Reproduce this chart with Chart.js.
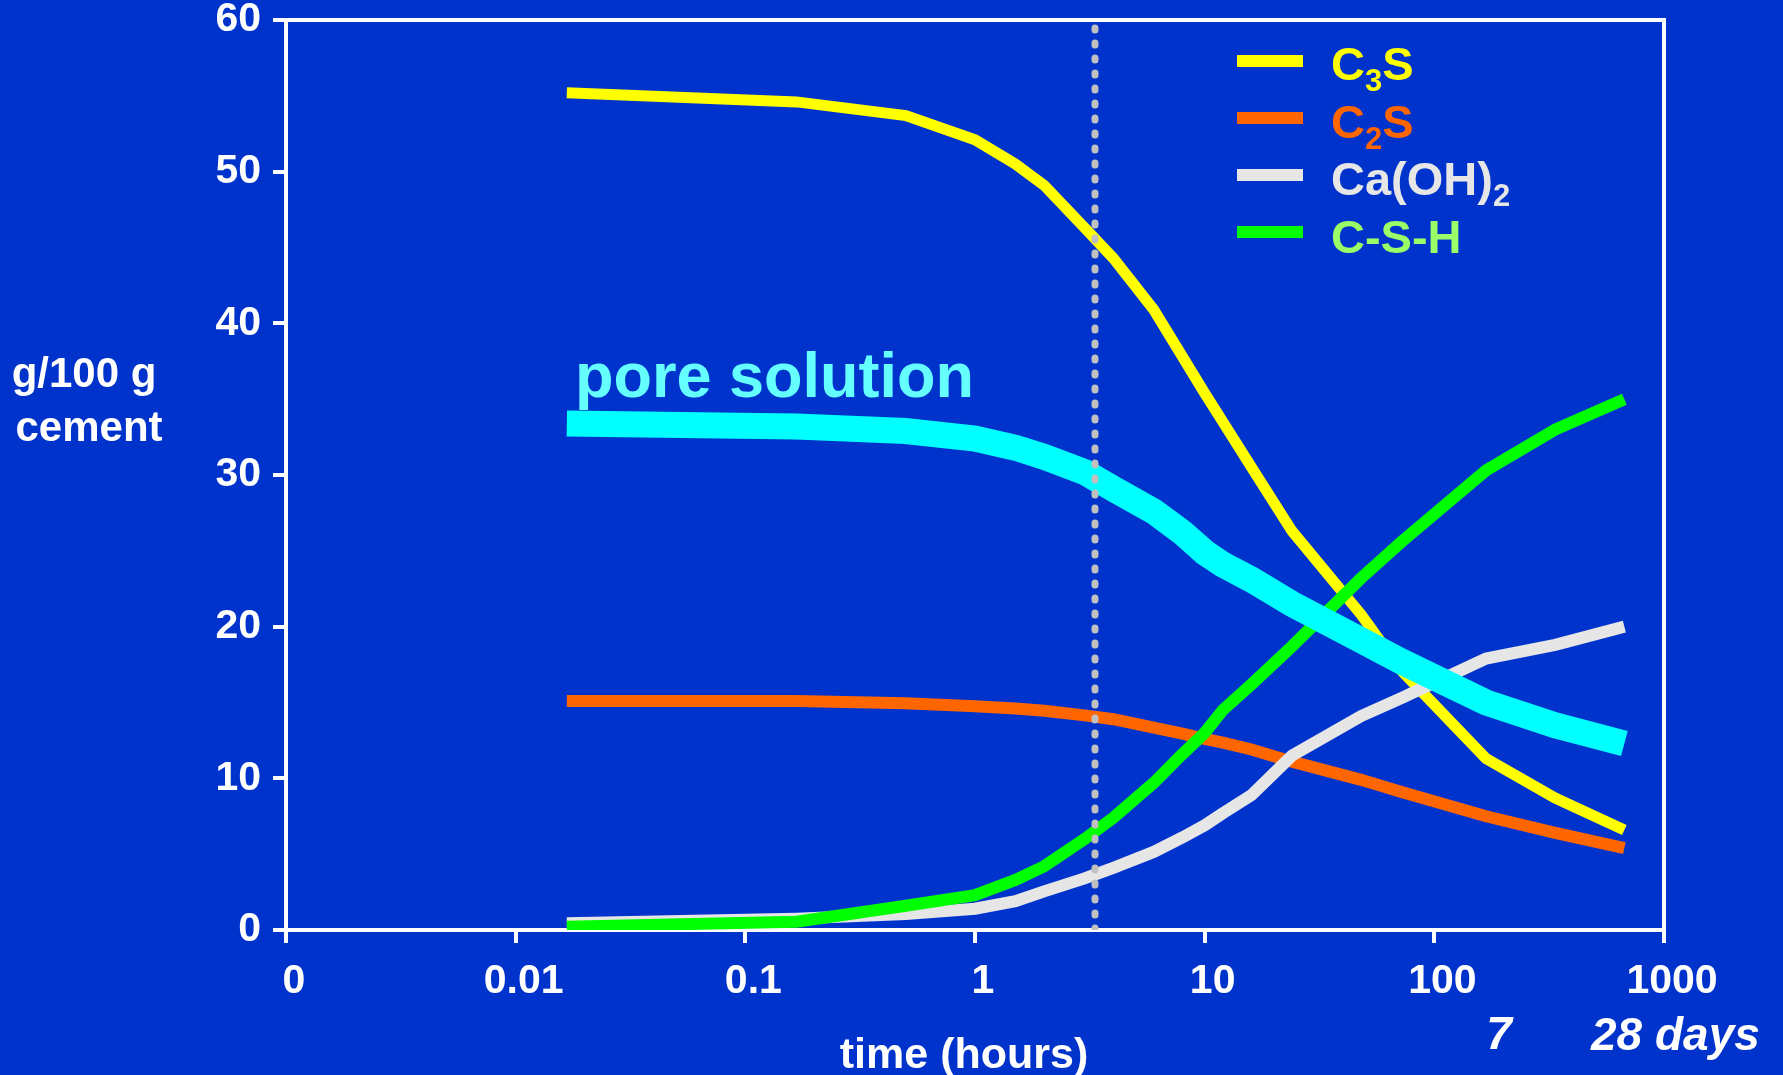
<!DOCTYPE html>
<html>
<head>
<meta charset="utf-8">
<script src="https://cdn.jsdelivr.net/npm/chart.js@4.4.0/dist/chart.umd.min.js"></script>
<style>
html,body{margin:0;padding:0;background:#0033CC;overflow:hidden;}
#wrap{width:1783px;height:1075px;position:relative;}
</style>
</head>
<body>
<div id="wrap"><canvas id="c" width="1783" height="1075"></canvas></div>
<script>
// ---- data (hours, g/100 g cement) ----
const times  = [0.0167, 0.167, 0.5, 1, 1.5, 2, 3, 4, 6, 8, 10, 12, 16, 24, 48, 72, 168, 336, 672];
const c3s    = [55.2, 54.6, 53.7, 52.1, 50.5, 49.1, 46.3, 44.3, 40.9, 37.8, 35.4, 33.5, 30.5, 26.3, 20.8, 17.1, 11.3, 8.7, 6.6];
const c2s    = [15.1, 15.1, 14.95, 14.75, 14.6, 14.45, 14.15, 13.9, 13.35, 12.95, 12.6, 12.35, 11.9, 11.1, 9.9, 9.1, 7.5, 6.4, 5.4];
const caoh2  = [0.45, 0.75, 1.05, 1.4, 1.9, 2.55, 3.4, 4.1, 5.15, 6.1, 6.9, 7.7, 8.9, 11.5, 14.1, 15.3, 17.9, 18.8, 20.0];
const csh    = [0.22, 0.55, 1.6, 2.3, 3.3, 4.2, 6.0, 7.4, 9.7, 11.6, 13.0, 14.5, 16.2, 18.7, 23.2, 25.6, 30.3, 33.0, 35.0];
const pore   = [33.4, 33.2, 32.9, 32.4, 31.8, 31.2, 30.2, 29.1, 27.6, 26.2, 24.9, 24.1, 23.1, 21.5, 19.1, 17.7, 15.0, 13.5, 12.3];
const markerTime = 3.33;           // dotted vertical line (hours)
const markerRange = [0, 60];
const xTickValues = [0.001, 0.01, 0.1, 1, 10, 100, 1000];
const xTickLabels = ['0', '0.01', '0.1', '1', '10', '100', '1000'];
const yTickStep = 10;

const FONT = '"Liberation Sans", Arial, Helvetica, sans-serif';
const pts = (vals) => times.map((t, i) => ({x: t, y: vals[i]}));

const bgPlugin = {
  id: 'bg',
  beforeDraw(chart) {
    const ctx = chart.ctx;
    ctx.save();
    ctx.fillStyle = '#0033CC';
    ctx.fillRect(0, 0, chart.width, chart.height);
    ctx.restore();
  },
  beforeDatasetsDraw(chart) {
    const {ctx, chartArea: a} = chart;
    ctx.save();
    ctx.strokeStyle = '#FFFFFF';
    ctx.lineWidth = 4;
    ctx.beginPath();
    ctx.moveTo(a.left, a.top);
    ctx.lineTo(a.right, a.top);
    ctx.lineTo(a.right, a.bottom);
    ctx.stroke();
    ctx.restore();
  }
};

const legendItems = [
  {ds: 0, parts: [['C', 0], ['3', 1], ['S', 0]], color: '#FFFF00'},
  {ds: 1, parts: [['C', 0], ['2', 1], ['S', 0]], color: '#FF6600'},
  {ds: 2, parts: [['Ca(OH)', 0], ['2', 1]], color: '#E6E6E6'},
  {ds: 3, parts: [['C-S-H', 0]], color: '#99FF66'}
];

const textPlugin = {
  id: 'texts',
  afterDraw(chart) {
    const ctx = chart.ctx;
    ctx.save();
    // legend
    legendItems.forEach((it, i) => {
      const ds = chart.data.datasets[it.ds];
      const yLine = 61 + i * 57;
      ctx.strokeStyle = ds.borderColor;
      ctx.lineWidth = 12;
      ctx.lineCap = 'butt';
      ctx.beginPath();
      ctx.moveTo(1237, yLine);
      ctx.lineTo(1303, yLine);
      ctx.stroke();
      let x = 1331;
      const base = 80 + i * 57.5;
      ctx.fillStyle = it.color;
      ctx.textAlign = 'left';
      ctx.textBaseline = 'alphabetic';
      it.parts.forEach(([s, sub]) => {
        ctx.font = sub ? 'bold 31px ' + FONT : 'bold 47px ' + FONT;
        ctx.fillText(s, x, sub ? base + 11 : base);
        x += ctx.measureText(s).width;
      });
    });
    // pore solution label
    ctx.fillStyle = '#66FFFF';
    ctx.font = 'bold 63px ' + FONT;
    ctx.textAlign = 'left';
    ctx.fillText('pore solution', 575, 397);
    // y axis title
    ctx.fillStyle = '#FFFFFF';
    ctx.font = 'bold 42px ' + FONT;
    ctx.textAlign = 'center';
    ctx.fillText('g/100 g', 84, 387);
    ctx.fillText('cement', 89, 441);
    // x axis title
    ctx.font = 'bold 43px ' + FONT;
    ctx.fillText('time (hours)', 964, 1068);
    // day annotations
    ctx.font = 'italic bold 46px ' + FONT;
    ctx.fillText('7', 1499, 1049);
    ctx.textAlign = 'left';
    ctx.fillText('28 days', 1591, 1050);
    ctx.restore();
  }
};

const lineDs = (label, vals, color, width, order) => ({
  label, data: pts(vals), borderColor: color, backgroundColor: color,
  borderWidth: width, pointRadius: 0, pointHoverRadius: 0, tension: 0,
  borderCapStyle: 'butt', borderJoinStyle: 'miter', fill: false, order
});

new Chart(document.getElementById('c'), {
  type: 'line',
  data: {
    datasets: [
      lineDs('C3S', c3s, '#FFFF00', 11, 3),
      lineDs('C2S', c2s, '#FF6600', 12, 4),
      lineDs('Ca(OH)2', caoh2, '#E6E6E6', 12, 2),
      lineDs('C-S-H', csh, '#00FF00', 12, 1),
      lineDs('pore solution', pore, '#00FFFF', 26, 0),
      {
        label: 'marker',
        data: markerRange.map(v => ({x: markerTime, y: v})),
        borderColor: '#C0C0C0', borderWidth: 7, borderDash: [2, 13],
        borderCapStyle: 'round', pointRadius: 0, tension: 0, fill: false, order: -1
      }
    ]
  },
  options: {
    responsive: false,
    animation: false,
    devicePixelRatio: 1,
    layout: {padding: {top: 20, right: 119, bottom: 0, left: 0}},
    plugins: {legend: {display: false}, tooltip: {enabled: false}},
    events: [],
    scales: {
      x: {
        type: 'logarithmic', position: 'bottom', min: 0.001, max: 1000,
        afterBuildTicks: (axis) => { axis.ticks = xTickValues.map(v => ({value: v})); },
        afterFit: (s) => { s.height = 145; s.paddingLeft = 0; s.paddingRight = 0; },
        ticks: {
          callback: (v, i) => xTickLabels[i],
          color: '#FFFFFF', font: {family: FONT, size: 41, weight: 'bold'},
          padding: 14, labelOffset: 8, maxRotation: 0, autoSkip: false
        },
        grid: {display: true, drawOnChartArea: false, drawTicks: true, tickLength: 13, color: '#FFFFFF', lineWidth: 4},
        border: {display: true, color: '#FFFFFF', width: 4}
      },
      y: {
        type: 'linear', min: 0, max: 60,
        afterFit: (s) => { s.width = 286; s.paddingTop = 0; s.paddingBottom = 0; },
        ticks: {
          stepSize: yTickStep, color: '#FFFFFF',
          font: {family: FONT, size: 41, weight: 'bold'}, padding: 12
        },
        grid: {display: true, drawOnChartArea: false, drawTicks: true, tickLength: 13, color: '#FFFFFF', lineWidth: 4},
        border: {display: true, color: '#FFFFFF', width: 4}
      }
    }
  },
  plugins: [bgPlugin, textPlugin]
});
</script>
</body>
</html>
